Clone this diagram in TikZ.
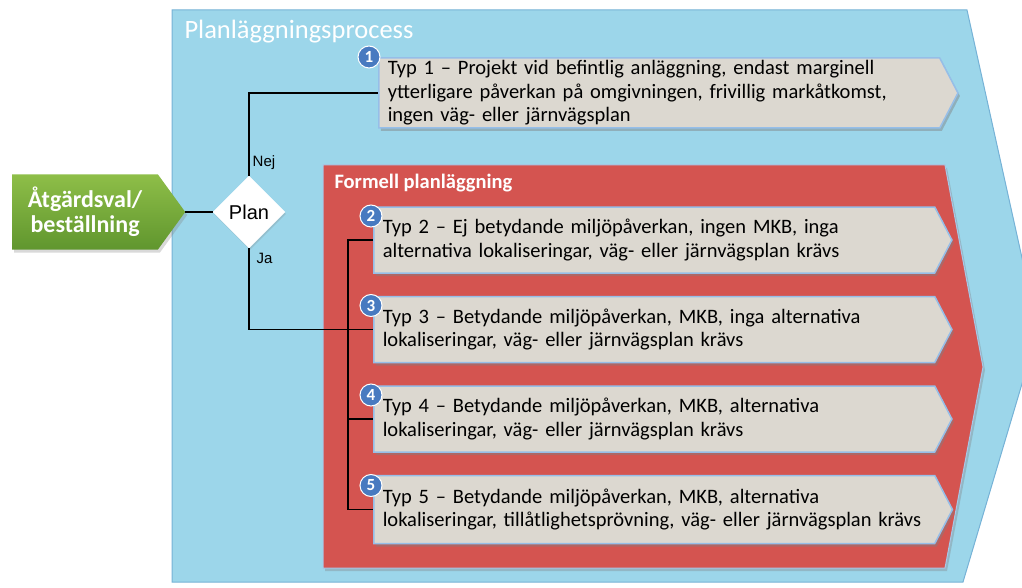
\documentclass[tikz,border=0pt]{standalone}
\usepackage{fontspec}
\setmainfont{Carlito}
\newfontfamily\arialfont{Liberation Sans}
\usetikzlibrary{positioning,calc,shapes.geometric,shapes.symbols,shadows}
\definecolor{procblue}{RGB}{156,214,234}
\definecolor{procedge}{RGB}{118,178,214}
\definecolor{formred}{RGB}{212,84,80}
\definecolor{formedge}{RGB}{168,200,232}
\definecolor{boxgray}{RGB}{220,216,208}
\definecolor{boxedge}{RGB}{150,190,232}
\definecolor{numblue}{RGB}{72,122,192}
\definecolor{greentop}{RGB}{142,190,72}
\definecolor{greenbot}{RGB}{96,150,46}

\begin{document}
\begin{tikzpicture}[x=1pt,y=-1pt,node distance=22pt,
typbox/.style={shape=signal,signal to=east,signal pointer angle=125,draw=boxedge,line width=1.5pt,fill=boxgray,
  minimum width=577pt,minimum height=66pt,text width=543pt,inner xsep=9pt,inner ysep=2pt,align=left,anchor=west,
  font=\fontsize{20.5}{23.5}\selectfont,drop shadow={shadow xshift=2pt,shadow yshift=-3pt,opacity=.45}},
num/.style={circle,fill=numblue,draw=white,line width=1pt,text=white,inner sep=0pt,minimum size=22pt,
  font=\bfseries\fontsize{17}{17}\selectfont},
order/.style={shape=signal,signal to=east,signal pointer angle=108,top color=greentop,bottom color=greenbot,
  minimum width=173pt,minimum height=75pt,text=white,align=center,anchor=west,font=\bfseries\fontsize{24}{25}\selectfont,
  drop shadow={shadow xshift=2pt,shadow yshift=-3pt,opacity=.3}},
judge/.style={draw=white,diamond,aspect=1,fill=white,minimum width=72pt,minimum height=72pt,inner sep=0pt,
  font=\arialfont\fontsize{20}{20}\selectfont,drop shadow={shadow xshift=1pt,shadow yshift=-2pt,opacity=.25}},
lbl/.style={font=\arialfont\fontsize{15}{15}\selectfont,inner sep=1pt},
wire/.style={line width=1.4pt,black}]
\useasboundingbox (0,0) rectangle (1022,588);
% bakgrund
\fill[procblue,draw=procedge,line width=1pt] (172,10) -- (967,10) -- (1038,330) -- (963,582) -- (172,582) -- cycle;
\node[anchor=west,text=white,font=\fontsize{26.5}{26.5}\selectfont] (proc) at (181,32) {Planläggningsprocess};
\fill[formred,draw=formedge,line width=1pt,drop shadow={shadow xshift=2pt,shadow yshift=-3pt,opacity=.35}]
  (323,165) -- (945,165) -- (983,367) -- (945,568) -- (323,568) -- cycle;
\node[anchor=west,text=white,font=\bfseries\fontsize{20.5}{20.5}\selectfont] (formell) at (331,183) {Formell planläggning};
% flöde
\node[order] (order) at (12,212) {Åtgärdsval/\\beställning};
\node[judge] (plan) at (249,212) {Plan};
\node[typbox,minimum height=70pt] (typ1) at (378,93) {Typ 1 – Projekt vid befintlig anläggning, endast marginell\\ytterligare påverkan på omgivningen, frivillig markåtkomst,\\ingen väg- eller järnvägsplan};
\node[typbox] (typ2) at (373,240) {Typ 2 – Ej betydande miljöpåverkan, ingen MKB, inga\\alternativa lokaliseringar, väg- eller järnvägsplan krävs};
\node[typbox,below=of typ2.south west,anchor=north west] (typ3) {Typ 3 – Betydande miljöpåverkan, MKB, inga alternativa\\lokaliseringar, väg- eller järnvägsplan krävs};
\node[typbox,below=of typ3.south west,anchor=north west] (typ4) {Typ 4 – Betydande miljöpåverkan, MKB, alternativa\\lokaliseringar, väg- eller järnvägsplan krävs};
\node[typbox,below=of typ4.south west,anchor=north west,minimum height=68pt] (typ5) {Typ 5 – Betydande miljöpåverkan, MKB, alternativa\\lokaliseringar, tillåtlighetsprövning, väg- eller järnvägsplan krävs};
\node[num] (n1) at ($(typ1.west)+(-9,-36)$) {1};
\foreach \n in {2,...,5}
  \node[num] (n\n) at ($(typ\n.west)+(-2,-24)$) {\n};
% ledningar
\coordinate (bartop) at ($(typ2.west)+(-25,0)$);
\coordinate (barbot) at ($(typ5.west)+(-25,0)$);
\draw[wire] (order.east) -- (plan.west);
\draw[wire] (plan.north) |- node[lbl,pos=.08,anchor=west,xshift=2pt]{Nej} (typ1.west);
\draw[wire] (plan.south) |- node[lbl,pos=.06,anchor=west,xshift=6pt]{Ja} (typ3.west);
\draw[wire] (typ2.west) -- (bartop) -- (barbot) -- (typ5.west);
\draw[wire] (typ4.west) -- (typ4.west -| bartop);
\end{tikzpicture}
\end{document}
